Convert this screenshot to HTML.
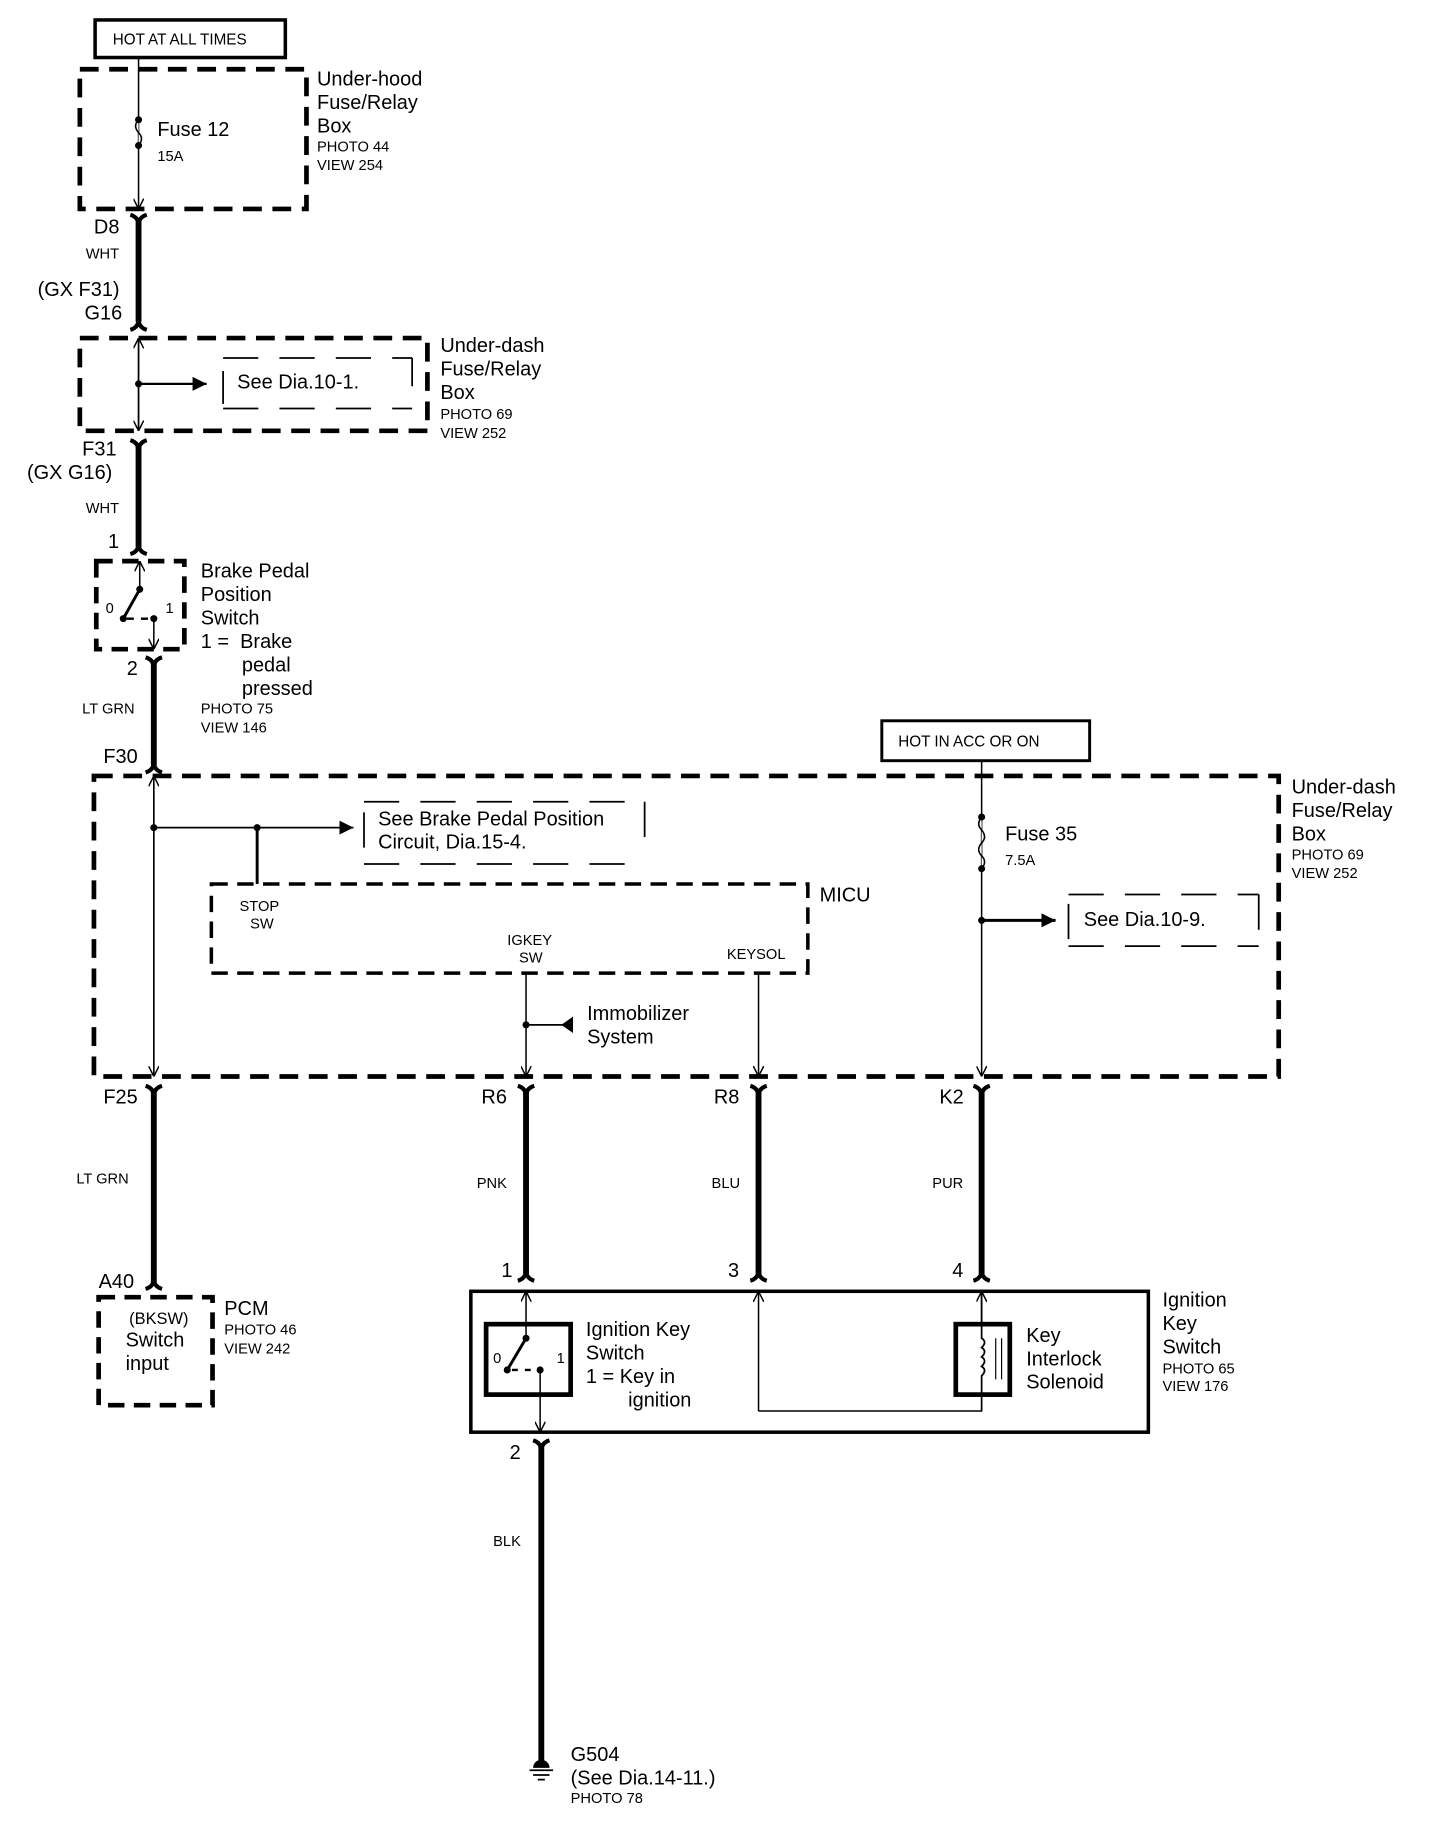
<!DOCTYPE html>
<html><head><meta charset="utf-8"><style>
html,body{margin:0;padding:0;background:#fff}
svg{display:block}
text{font-family:"Liberation Sans",sans-serif;fill:#000}
.l{font-size:17px}.s{font-size:12.5px}
</style></head><body>
<svg width="1456" height="1836" viewBox="0 0 1240 1564" preserveAspectRatio="none" xmlns="http://www.w3.org/2000/svg">
<defs>
<marker id="ah" viewBox="0 0 10 10" refX="10" refY="5" markerWidth="9" markerHeight="9" orient="auto-start-reverse" markerUnits="userSpaceOnUse"><path d="M0,0 L10,5 L0,10" fill="none" stroke="#000" stroke-width="1.4"/></marker>
<marker id="fa" viewBox="0 0 10 10" refX="10" refY="5" markerWidth="12" markerHeight="12" orient="auto" markerUnits="userSpaceOnUse"><path d="M0,0 L10,5 L0,10z" fill="#000"/></marker>
</defs>
<g fill="none" stroke="#000">
<!-- HOT AT ALL TIMES -->
<rect x="81" y="17" width="162" height="32" stroke-width="3"/>
<!-- underhood box -->
<rect x="68" y="59" width="193" height="119" stroke-width="4" stroke-dasharray="16 9"/>
<line x1="118" y1="49" x2="118" y2="178" stroke-width="1.3" marker-end="url(#ah)"/>
<path d="M118,102 q-5,5 0,11 q5,5 0,11" fill="#fff" stroke-width="1.3"/>
<!-- thick wire D8-G16 -->
<line x1="118" y1="186" x2="118" y2="274" stroke-width="5"/>
<path d="M111,183 Q118,185 118,192 Q118,185 125,183" stroke-width="3.5"/>
<path d="M111,281 Q118,279 118,272 Q118,279 125,281" stroke-width="3.5"/>
<!-- underdash box 1 -->
<rect x="68" y="288" width="296" height="79" stroke-width="4" stroke-dasharray="16 9"/>
<line x1="118" y1="367" x2="118" y2="288" stroke-width="1.3" marker-end="url(#ah)"/>
<line x1="118" y1="288" x2="118" y2="367" stroke-width="1.3" marker-end="url(#ah)"/>
<line x1="118" y1="327" x2="176" y2="327" stroke-width="2" marker-end="url(#fa)"/>
<path d="M190,316 v28 M351,305 v24 M190,305 h161 M190,348 h161" stroke-width="1.5" stroke-dasharray="30 18"/>
<!-- F31 - brake -->
<line x1="118" y1="378" x2="118" y2="466" stroke-width="5"/>
<path d="M111,375 Q118,377 118,384 Q118,377 125,375" stroke-width="3.5"/>
<path d="M111,472 Q118,470 118,463 Q118,470 125,472" stroke-width="3.5"/>
<rect x="82" y="478" width="75" height="75" stroke-width="4" stroke-dasharray="14 8"/>
<line x1="119" y1="502" x2="119" y2="478" stroke-width="1.3" marker-end="url(#ah)"/>
<line x1="119" y1="502" x2="105" y2="527" stroke-width="2.5"/>
<line x1="108" y1="527" x2="131" y2="527" stroke-width="2" stroke-dasharray="6 6"/>
<line x1="131" y1="527" x2="131" y2="553" stroke-width="1.3" marker-end="url(#ah)"/>
<!-- LT GRN to F30 -->
<line x1="131" y1="563" x2="131" y2="652" stroke-width="5"/>
<path d="M124,560 Q131,562 131,569 Q131,562 138,560" stroke-width="3.5"/>
<path d="M124,658 Q131,656 131,649 Q131,656 138,658" stroke-width="3.5"/>
<!-- big under-dash box -->
<rect x="80" y="661" width="1009" height="256" stroke-width="4" stroke-dasharray="16 9"/>
<line x1="131" y1="917" x2="131" y2="661" stroke-width="1.3" marker-end="url(#ah)"/>
<line x1="131" y1="661" x2="131" y2="917" stroke-width="1.3" marker-end="url(#ah)"/>
<line x1="131" y1="705" x2="301" y2="705" stroke-width="1.5" marker-end="url(#fa)"/>
<line x1="219" y1="705" x2="219" y2="753" stroke-width="2.5"/>
<path d="M310,683 h239 M310,736 h239 M310,692 v30 M549,683 v40" stroke-width="1.5" stroke-dasharray="30 18"/>
<!-- MICU -->
<rect x="180" y="753" width="508" height="76" stroke-width="3" stroke-dasharray="14 8"/>
<line x1="448" y1="829" x2="448" y2="917" stroke-width="1.3" marker-end="url(#ah)"/>
<line x1="488" y1="873" x2="448" y2="873" stroke-width="1.5"/>
<path d="M488,866 L478,873 L488,880z" fill="#000" stroke="none"/>
<line x1="646" y1="829" x2="646" y2="917" stroke-width="1.3" marker-end="url(#ah)"/>
<!-- HOT IN ACC -->
<rect x="751" y="614" width="177" height="34" stroke-width="2.5"/>
<line x1="836" y1="648" x2="836" y2="917" stroke-width="1.3" marker-end="url(#ah)"/>
<path d="M836,696 q-5,6 0,11 q5,6 0,11 q-5,6 0,11 q5,5 0,11" fill="#fff" stroke-width="1.3"/>
<line x1="836" y1="784" x2="899" y2="784" stroke-width="2.5" marker-end="url(#fa)"/>
<path d="M910,762 h162 M910,806 h162 M910,770 v34 M1072,762 v42" stroke-width="1.5" stroke-dasharray="30 18"/>
<!-- lower thick wires -->
<g stroke-width="5">
<line x1="131" y1="928" x2="131" y2="1092"/>
<line x1="448" y1="928" x2="448" y2="1085"/>
<line x1="646" y1="928" x2="646" y2="1085"/>
<line x1="836" y1="928" x2="836" y2="1085"/>
<line x1="461" y1="1230" x2="461" y2="1500"/>
</g>
<g stroke-width="3.5">
<path d="M124,925 Q131,927 131,934 Q131,927 138,925"/>
<path d="M441,925 Q448,927 448,934 Q448,927 455,925"/>
<path d="M639,925 Q646,927 646,934 Q646,927 653,925"/>
<path d="M829,925 Q836,927 836,934 Q836,927 843,925"/>
<path d="M124,1098 Q131,1096 131,1089 Q131,1096 138,1098"/>
<path d="M441,1091 Q448,1089 448,1082 Q448,1089 455,1091"/>
<path d="M639,1091 Q646,1089 646,1082 Q646,1089 653,1091"/>
<path d="M829,1091 Q836,1089 836,1082 Q836,1089 843,1091"/>
<path d="M454,1227 Q461,1229 461,1236 Q461,1229 468,1227"/>
</g>
<!-- PCM -->
<rect x="84" y="1105" width="97" height="92" stroke-width="4" stroke-dasharray="14 8"/>
<!-- ignition box -->
<rect x="401" y="1100" width="577" height="120" stroke-width="3"/>
<rect x="414" y="1128" width="72" height="60" stroke-width="4"/>
<line x1="448" y1="1140" x2="448" y2="1100" stroke-width="1.3" marker-end="url(#ah)"/>
<line x1="448" y1="1140" x2="432" y2="1167" stroke-width="2.5"/>
<line x1="436" y1="1167" x2="460" y2="1167" stroke-width="2" stroke-dasharray="5 6"/>
<line x1="460" y1="1167" x2="460" y2="1220" stroke-width="1.3" marker-end="url(#ah)"/>
<line x1="646" y1="1202" x2="646" y2="1100" stroke-width="1.3" marker-end="url(#ah)"/>
<path d="M646,1202 H836 V1100" stroke-width="1.3" marker-end="url(#ah)"/>
<rect x="814" y="1128" width="46" height="60" stroke-width="4" fill="#fff"/>
<path d="M836,1100 V1140 q5,3 0,8 q5,3 0,8 q5,3 0,8 q5,3 0,8 V1188" stroke-width="1.5" fill="none"/>
<line x1="836" y1="1188" x2="836" y2="1202" stroke-width="1.3"/>
<path d="M848,1140 v35 M853,1140 v35" stroke-width="1"/>
<!-- ground -->
<path d="M454,1506 a7,7 0 0 1 14,0z" fill="#000" stroke="none"/>
<path d="M451,1508 h20 M454,1512 h14 M458,1516 h6" stroke-width="1.5"/>
</g>
<g fill="#000">
<circle cx="118" cy="102" r="3"/><circle cx="118" cy="124" r="3"/>
<circle cx="118" cy="327" r="3"/>
<circle cx="119" cy="502" r="3"/><circle cx="105" cy="527" r="3"/><circle cx="131" cy="527" r="3"/>
<circle cx="131" cy="705" r="3"/><circle cx="219" cy="705" r="3"/>
<circle cx="448" cy="873" r="3"/>
<circle cx="836" cy="696" r="3"/><circle cx="836" cy="740" r="3"/><circle cx="836" cy="784" r="3"/>
<circle cx="448" cy="1140" r="3"/><circle cx="432" cy="1167" r="3"/><circle cx="460" cy="1167" r="3"/>
</g>
<text x="96" y="38" style="font-size:13px">HOT AT ALL TIMES</text>
<text class="l" x="134" y="116">Fuse 12</text><text class="s" x="134" y="137">15A</text>
<text class="l" x="270" y="73">Under-hood</text><text class="l" x="270" y="93">Fuse/Relay</text><text class="l" x="270" y="113">Box</text>
<text class="s" x="270" y="129">PHOTO 44</text><text class="s" x="270" y="145">VIEW 254</text>
<text class="l" x="80" y="199">D8</text><text class="s" x="73" y="220">WHT</text>
<text class="l" x="32" y="252">(GX F31)</text><text class="l" x="72" y="272">G16</text>
<text class="l" x="202" y="331">See Dia.10-1.</text>
<text class="l" x="375" y="300">Under-dash</text><text class="l" x="375" y="320">Fuse/Relay</text><text class="l" x="375" y="340">Box</text>
<text class="s" x="375" y="357">PHOTO 69</text><text class="s" x="375" y="373">VIEW 252</text>
<text class="l" x="70" y="388">F31</text><text class="l" x="23" y="408">(GX G16)</text>
<text class="s" x="73" y="437">WHT</text>
<text class="l" x="92" y="467">1</text>
<text class="s" x="90" y="522">0</text><text class="s" x="141" y="522">1</text>
<text class="l" x="171" y="492">Brake Pedal</text><text class="l" x="171" y="512">Position</text><text class="l" x="171" y="532">Switch</text>
<text class="l" x="171" y="552">1 =&#160;&#160;Brake</text><text class="l" x="206" y="572">pedal</text><text class="l" x="206" y="592">pressed</text>
<text class="s" x="171" y="608">PHOTO 75</text><text class="s" x="171" y="624">VIEW 146</text>
<text class="l" x="108" y="575">2</text><text class="s" x="70" y="608">LT GRN</text>
<text class="l" x="88" y="650">F30</text>
<text style="font-size:13px" x="765" y="636">HOT IN ACC OR ON</text>
<text class="l" x="322" y="703">See Brake Pedal Position</text><text class="l" x="322" y="723">Circuit, Dia.15-4.</text>
<text class="s" x="204" y="776">STOP</text><text class="s" x="213" y="791">SW</text>
<text class="s" x="432" y="805">IGKEY</text><text class="s" x="442" y="820">SW</text>
<text class="s" x="619" y="817">KEYSOL</text>
<text class="l" x="698" y="768">MICU</text>
<text class="l" x="500" y="869">Immobilizer</text><text class="l" x="500" y="889">System</text>
<text class="l" x="856" y="716">Fuse 35</text><text class="s" x="856" y="737">7.5A</text>
<text class="l" x="923" y="789">See Dia.10-9.</text>
<text class="l" x="1100" y="676">Under-dash</text><text class="l" x="1100" y="696">Fuse/Relay</text><text class="l" x="1100" y="716">Box</text>
<text class="s" x="1100" y="732">PHOTO 69</text><text class="s" x="1100" y="748">VIEW 252</text>
<text class="l" x="88" y="940">F25</text><text class="l" x="410" y="940">R6</text><text class="l" x="608" y="940">R8</text><text class="l" x="800" y="940">K2</text>
<text class="s" x="65" y="1008">LT GRN</text><text class="s" x="406" y="1012">PNK</text><text class="s" x="606" y="1012">BLU</text><text class="s" x="794" y="1012">PUR</text>
<text class="l" x="84" y="1097">A40</text>
<text style="font-size:14px" x="110" y="1128">(BKSW)</text><text class="l" x="107" y="1147">Switch</text><text class="l" x="107" y="1167">input</text>
<text class="l" x="191" y="1120">PCM</text><text class="s" x="191" y="1137">PHOTO 46</text><text class="s" x="191" y="1153">VIEW 242</text>
<text class="l" x="427" y="1088">1</text><text class="l" x="620" y="1088">3</text><text class="l" x="811" y="1088">4</text>
<text class="s" x="420" y="1161">0</text><text class="s" x="474" y="1161">1</text>
<text class="l" x="499" y="1138">Ignition Key</text><text class="l" x="499" y="1158">Switch</text><text class="l" x="499" y="1178">1 = Key in</text><text class="l" x="535" y="1198">ignition</text>
<text class="l" x="874" y="1143">Key</text><text class="l" x="874" y="1163">Interlock</text><text class="l" x="874" y="1183">Solenoid</text>
<text class="l" x="990" y="1113">Ignition</text><text class="l" x="990" y="1133">Key</text><text class="l" x="990" y="1153">Switch</text>
<text class="s" x="990" y="1170">PHOTO 65</text><text class="s" x="990" y="1185">VIEW 176</text>
<text class="l" x="434" y="1243">2</text><text class="s" x="420" y="1317">BLK</text>
<text class="l" x="486" y="1500">G504</text><text class="l" x="486" y="1520">(See Dia.14-11.)</text><text class="s" x="486" y="1536">PHOTO 78</text>
</svg>
</body></html>
